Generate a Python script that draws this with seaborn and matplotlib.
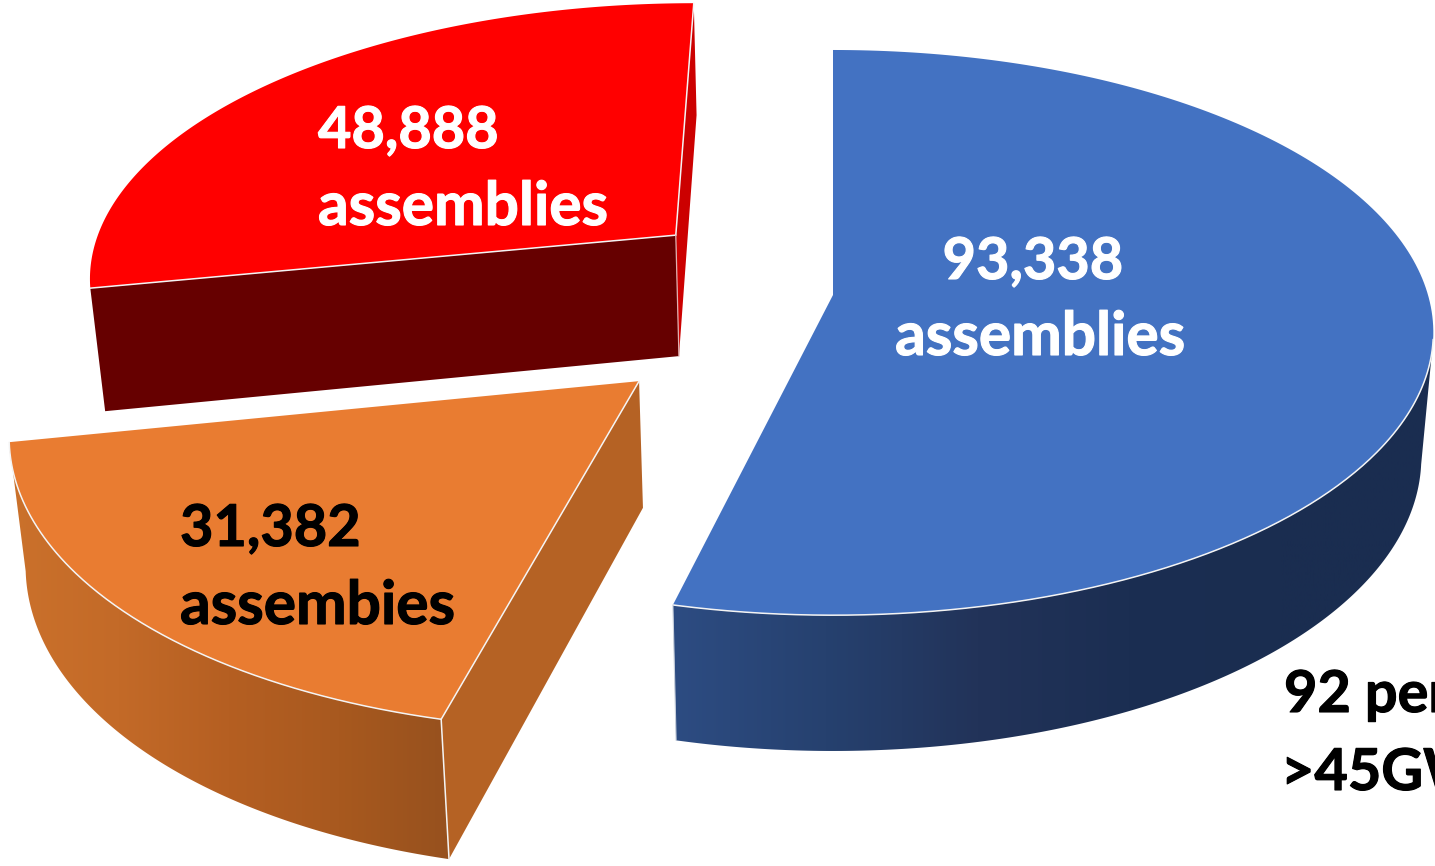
import numpy as np
import pandas as pd
import seaborn as sns
import matplotlib.pyplot as plt
import matplotlib.patheffects as pe
from matplotlib.patches import Polygon

# values of the slices, clockwise from 12 o'clock
names = ['blue', 'orange', 'red']
assemblies = [93338, 31382, 48888]
top_colors = ['#4372C2', '#E97C31', '#FF0000']
labels = ['93,338', '31,382', '48,888']
words = ['assemblies', 'assembies', 'assemblies']
text_colors = ['white', 'black', 'white']

sns.set_theme(style='white')
plt.rcParams['font.family'] = ['Lato', 'DejaVu Sans']

df = pd.DataFrame({'name': names, 'assemblies': assemblies})
df['sweep'] = df['assemblies'] / df['assemblies'].sum() * 2 * np.pi
df['end'] = df['sweep'].cumsum()
df['start'] = df['end'] - df['sweep']
df = df.set_index('name')

# explode of every slice on the pie plane
explode = {'blue': (0, 0), 'orange': (-0.313, -0.298), 'red': (-0.272, 0.222)}

# perspective camera, in pixels
VX, VY = 833, 295
RX, RY, PERSP = 595, 277.6, 0.133


def project(u, v):
    s = 1 / (1 + PERSP * v)
    return VX + RX * u * s, VY - RY * v * s


def drop(x, y):
    # the same point at the bottom of the pie
    return VX + (x - VX) * 0.98, y + 111.8 + 0.039 * y


def rim(name, a, b):
    t = np.linspace(a, b, 200)
    ex, ey = explode[name]
    return project(ex + np.sin(t), ey + np.cos(t))


def apex(name):
    return project(*explode[name])


fig, ax = plt.subplots(figsize=(14.35, 8.66), dpi=100)
fig.subplots_adjust(0, 0, 1, 1)
ax.set_axis_off()


def shape(xs, ys, color, zorder):
    p = Polygon(np.column_stack([xs, ys]), closed=True, fc=color, ec='none', zorder=zorder)
    ax.add_patch(p)
    return p


def wall(xs, ys, colors, zorder):
    bx, by = drop(xs, ys)
    px = np.r_[xs, bx[::-1]]
    py = np.r_[ys, by[::-1]]
    p = shape(px, py, 'none', zorder)
    cmap = sns.blend_palette(colors, n_colors=256, as_cmap=True)
    im = ax.imshow(np.linspace(0, 1, 256)[None, :], cmap=cmap, aspect='auto', zorder=zorder,
                   extent=(px.min(), px.max(), py.max(), py.min()))
    im.set_clip_path(p)


def side(name, theta, color, zorder):
    ax0, ay0 = apex(name)
    cx, cy = rim(name, theta, theta)
    cx, cy = cx[0], cy[0]
    (bax, bay), (bcx, bcy) = drop(ax0, ay0), drop(cx, cy)
    shape([ax0, cx, bcx, bax], [ay0, cy, bcy, bay], color, zorder)
    return (ax0, ay0), (cx, cy), (bax, bay), (bcx, bcy)


def edge(xs, ys, zorder=6, lw=1.1, color='#f4f4f4'):
    ax.plot(xs, ys, color=color, lw=lw, zorder=zorder, solid_capstyle='round')


def top(name):
    s = df.loc[name]
    ax0, ay0 = apex(name)
    xs, ys = rim(name, s['start'], s['end'])
    shape(np.r_[ax0, xs], np.r_[ay0, ys], top_colors[names.index(name)], 4)


# blue slice
s = df.loc['blue']
xs, ys = rim('blue', np.pi * 0.55, s['end'])
wall(xs, ys, ['#2d4c82', '#26416f', '#223359', '#1b2e52', '#1a2d50', '#1a2d50'], 2)
top('blue')
edge(xs, ys)
wx, wy = drop(xs[-1], ys[-1])
edge([xs[-1], wx], [ys[-1], wy], lw=0.8, color='#c8d0dc')

# red slice
s = df.loc['red']
a_pt, c_pt, ab_pt, cb_pt = side('red', s['end'], '#CC0000', 2)
a_pt2, l_pt, ab2, lb = side('red', s['start'], '#660000', 3)
top('red')
edge([a_pt[0], c_pt[0]], [a_pt[1], c_pt[1]])
edge([l_pt[0], a_pt[0]], [l_pt[1], a_pt[1]])
edge([a_pt[0], ab_pt[0]], [a_pt[1], ab_pt[1]], lw=0.9, color='#e0b0b0')

# orange slice
s = df.loc['orange']
xs, ys = rim('orange', s['start'], s['end'])
wall(xs, ys, ['#cb712b', '#c36a28', '#b55f22', '#a8591f', '#97511e'], 2)
a_pt, c_pt, ab_pt, cb_pt = side('orange', s['start'], '#B56224', 3)
top('orange')
edge(xs, ys)
edge([a_pt[0], c_pt[0]], [a_pt[1], c_pt[1]])
edge([c_pt[0], cb_pt[0]], [c_pt[1], cb_pt[1]])

ax.set_xlim(0, 1435)
ax.set_ylim(866, 0)

# labels
FS_NUM, FS_WORD = 41.5, 43.5
label_xy = {'blue': ((1033, 279), (1040, 355), 'center'),
            'orange': ((180, 546), (180, 624), 'left'),
            'red': ((318, 148), (318, 225), 'left')}


def label(x, y, txt, col, size, ha='left'):
    t = ax.text(x, y, txt, color=col, fontsize=size, fontweight='bold', ha=ha, va='baseline', zorder=8)
    t.set_path_effects([pe.withStroke(linewidth=0.8, foreground=col)])


for name, lab, word, col in zip(names, labels, words, text_colors):
    p1, p2, ha = label_xy[name]
    label(*p1, lab, col, FS_NUM, ha)
    label(*p2, word, col, FS_WORD, ha)
label(1284, 712, '92 percent', 'black', FS_NUM)
label(1281, 790, '>45GW', 'black', FS_NUM)

fig.savefig('out.png', dpi=100)
